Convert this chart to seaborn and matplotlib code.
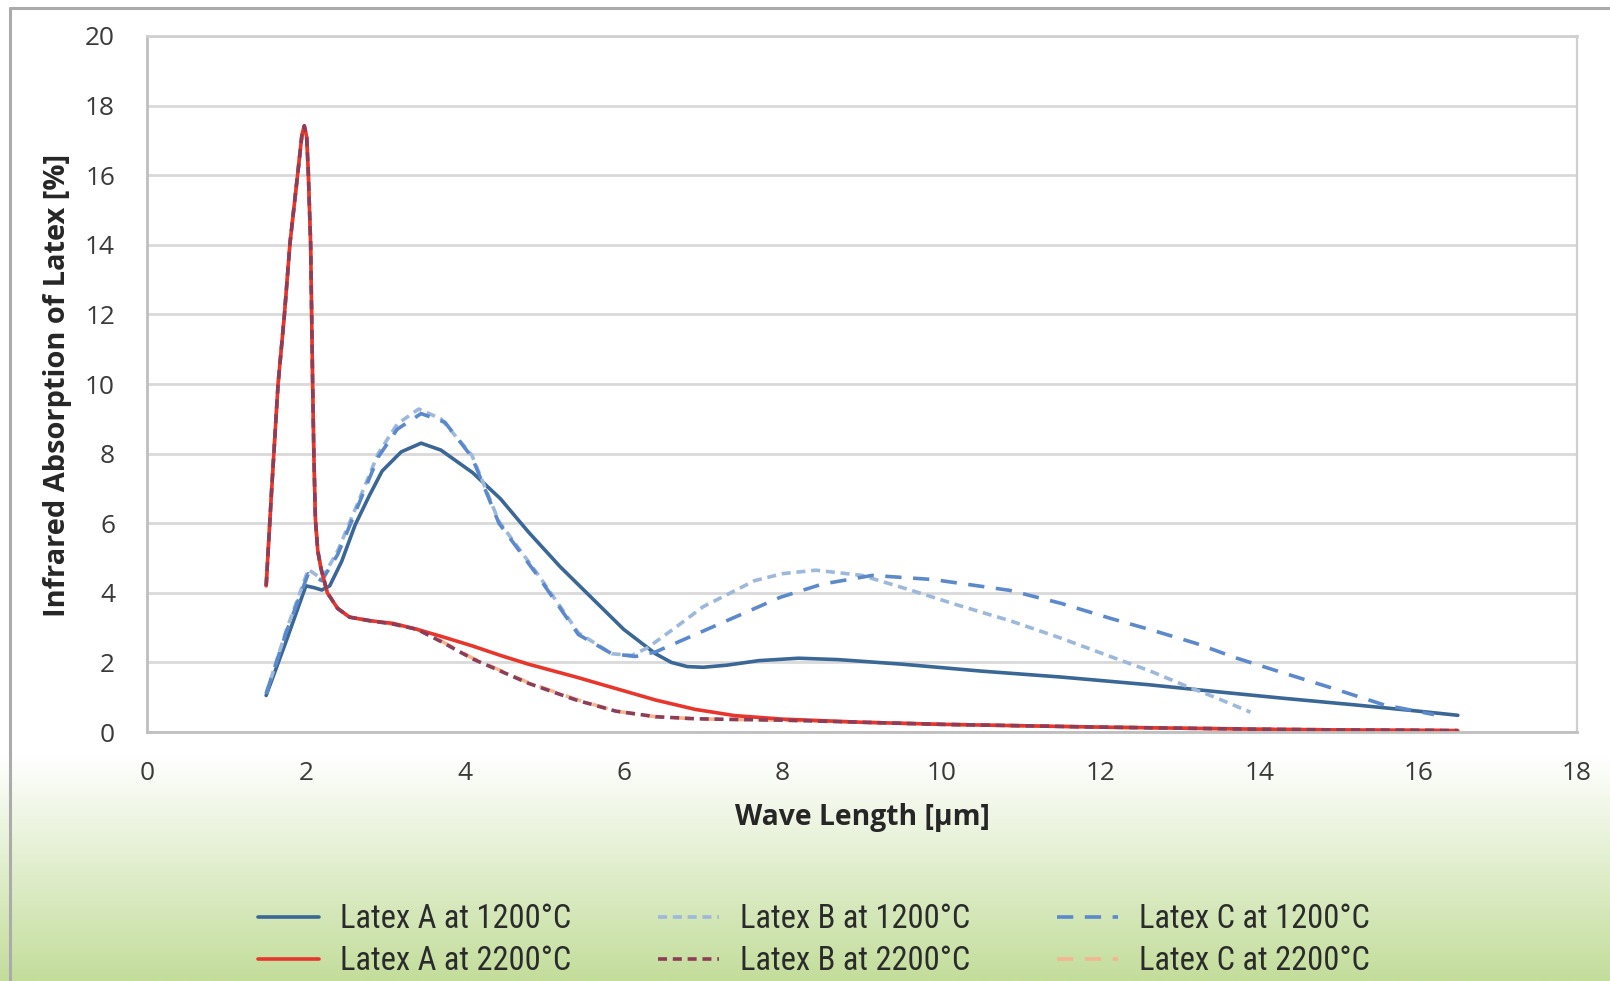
import numpy as np
import matplotlib
matplotlib.use("Agg")
import matplotlib.pyplot as plt
import seaborn as sns
from matplotlib import font_manager as fm
from matplotlib.colors import to_rgb
from matplotlib.lines import Line2D

# ---------------- data ----------------
x_ticks = [0, 2, 4, 6, 8, 10, 12, 14, 16, 18]
y_ticks = [0, 2, 4, 6, 8, 10, 12, 14, 16, 18, 20]

labels = ["Latex A at 1200°C", "Latex A at 2200°C",
          "Latex B at 1200°C", "Latex B at 2200°C",
          "Latex C at 1200°C", "Latex C at 2200°C"]

a1200_x = [1.5, 1.75, 2.0, 2.1, 2.2, 2.3, 2.45, 2.62, 2.8, 2.96, 3.2, 3.45, 3.7, 4.1, 4.45,
           4.8, 5.2, 5.6, 6.0, 6.4, 6.6, 6.8, 7.0, 7.3, 7.7, 8.2, 8.7, 9.5, 10.5, 11.5, 12.6,
           13.5, 14.3, 15.2, 16.0, 16.5]
a1200_y = [1.05, 2.6, 4.2, 4.15, 4.08, 4.2, 4.9, 5.95, 6.8, 7.5, 8.05, 8.3, 8.1, 7.45, 6.7,
           5.75, 4.75, 3.85, 2.95, 2.25, 2.0, 1.88, 1.86, 1.92, 2.05, 2.12, 2.08, 1.95, 1.75, 1.58, 1.36,
           1.15, 0.97, 0.78, 0.6, 0.48]

a2200_x = [1.5, 1.57, 1.65, 1.73, 1.8, 1.9, 1.95, 1.98, 2.01, 2.03, 2.06, 2.085, 2.1, 2.12,
           2.15, 2.19, 2.27, 2.4, 2.55, 2.8, 3.1, 3.4, 3.7, 4.1, 4.45, 4.8, 5.4, 5.9, 6.4, 6.9,
           7.4, 8.0, 9.0, 10.0, 11.0, 12.0, 13.0, 14.0, 15.0, 16.0, 16.5]
a2200_y = [4.2, 7.0, 10.0, 12.0, 14.05, 16.1, 17.15, 17.42, 17.1, 16.1, 14.0, 10.0, 8.0, 6.1,
           5.2, 4.7, 4.0, 3.55, 3.3, 3.2, 3.12, 2.95, 2.75, 2.47, 2.2, 1.95, 1.58, 1.25, 0.92, 0.65,
           0.47, 0.37, 0.28, 0.22, 0.18, 0.14, 0.11, 0.08, 0.06, 0.05, 0.04]

b1200_x = [1.5, 1.75, 2.03, 2.2, 2.4, 2.62, 2.91, 3.15, 3.42, 3.7, 4.09, 4.43, 4.93, 5.43,
           5.85, 6.1, 6.3, 6.65, 7.0, 7.65, 8.0, 8.42, 9.0, 9.58, 10.2, 10.86, 11.5, 12.15,
           12.63, 13.1, 13.44, 13.89]
b1200_y = [1.1, 2.9, 4.67, 4.4, 5.2, 6.4, 8.0, 8.85, 9.28, 9.0, 7.95, 6.05, 4.5, 2.85,
           2.25, 2.2, 2.42, 3.0, 3.6, 4.35, 4.55, 4.65, 4.5, 4.1, 3.65, 3.2, 2.7, 2.15,
           1.75, 1.3, 1.0, 0.57]

b2200_x = [1.5, 1.57, 1.65, 1.73, 1.8, 1.9, 1.95, 1.98, 2.01, 2.03, 2.06, 2.085, 2.1, 2.12,
           2.15, 2.19, 2.27, 2.4, 2.55, 2.8, 3.1, 3.4, 3.7, 4.1, 4.45, 4.8, 5.4, 5.9, 6.4, 6.9,
           7.4, 8.0, 9.0, 10.0, 11.0, 12.0, 13.0, 14.0, 15.0, 16.0, 16.5]
b2200_y = [4.2, 7.0, 10.0, 12.0, 14.05, 16.1, 17.15, 17.42, 17.1, 16.1, 14.0, 10.0, 8.0, 6.1,
           5.2, 4.7, 4.0, 3.55, 3.3, 3.2, 3.1, 2.95, 2.6, 2.1, 1.75, 1.4, 0.92, 0.6, 0.44, 0.38,
           0.36, 0.34, 0.28, 0.22, 0.18, 0.14, 0.11, 0.08, 0.06, 0.05, 0.04]

c1200_x = [1.5, 1.75, 2.03, 2.2, 2.4, 2.62, 2.91, 3.15, 3.45, 3.75, 4.09, 4.43, 4.93, 5.43,
           5.85, 6.15, 6.4, 7.0, 7.5, 7.97, 8.5, 9.13, 9.9, 10.86, 11.5, 12.15, 12.63, 13.2,
           13.72, 14.3, 14.85, 15.57, 16.0, 16.2]
c1200_y = [1.1, 2.85, 4.55, 4.35, 5.1, 6.3, 7.9, 8.7, 9.15, 8.9, 7.9, 6.0, 4.45, 2.8,
           2.25, 2.17, 2.3, 2.9, 3.4, 3.87, 4.25, 4.5, 4.38, 4.07, 3.7, 3.25, 2.94, 2.55,
           2.12, 1.7, 1.31, 0.78, 0.59, 0.5]

c2200_x = [1.5, 1.57, 1.65, 1.73, 1.8, 1.9, 1.95, 1.98, 2.01, 2.03, 2.06, 2.085, 2.1, 2.12,
           2.15, 2.19, 2.27, 2.4, 2.55, 2.8, 3.1, 3.4, 3.7, 4.1, 4.45, 4.8, 5.4, 5.9, 6.4, 6.9,
           7.4, 8.0, 9.0, 10.0, 11.0, 12.0, 13.0, 14.0, 15.0, 16.0, 16.5]
c2200_y = [4.2, 7.0, 10.0, 12.0, 14.05, 16.1, 17.15, 17.42, 17.1, 16.1, 14.0, 10.0, 8.0, 6.1,
           5.2, 4.7, 4.0, 3.55, 3.3, 3.2, 3.1, 2.95, 2.62, 2.12, 1.77, 1.42, 0.94, 0.6, 0.44, 0.38,
           0.36, 0.34, 0.28, 0.22, 0.18, 0.14, 0.11, 0.08, 0.06, 0.05, 0.04]

# ---------------- styling ----------------
sns.set_theme(style="white")
avail = {f.name for f in fm.fontManager.ttflist}


def pick(*names):
    for n in names:
        if n in avail:
            return n
    return "DejaVu Sans"


main_font = pick("Open Sans", "Noto Sans", "DejaVu Sans")
leg_font = pick("Roboto Condensed", "Liberation Sans Narrow", "Open Sans Condensed", "Open Sans")
plt.rcParams["font.family"] = [main_font, "DejaVu Sans"]

W, H = 1610, 981
fig = plt.figure(figsize=(W / 100, H / 100), dpi=100)
fig.patch.set_facecolor("white")

# gradient background (white -> light green at the bottom)
bg = fig.add_axes([0, 0, 1, 1], zorder=-10)
grad = np.ones((H, 1, 3))
green = np.array(to_rgb("#C3DD9B"))
g0 = 755
for i in range(g0, H):
    t = (i - g0) / (H - 1 - g0)
    grad[i, 0, :] = (1 - t) * np.ones(3) + t * green
bg.imshow(grad, aspect="auto", extent=[0, 1, 0, 1], interpolation="bilinear")
bg.set_axis_off()

# outer frame (left and top)
fig.add_artist(Line2D([10 / W, 10 / W], [0, 1 - 8 / H], transform=fig.transFigure,
                      color="#ABABAB", lw=2.2))
fig.add_artist(Line2D([10 / W, 1], [1 - 8 / H, 1 - 8 / H], transform=fig.transFigure,
                      color="#ABABAB", lw=2.2))

L, R, T, B = 147, 1577, 36, 732
ax = fig.add_axes([L / W, 1 - B / H, (R - L) / W, (B - T) / H])
ax.set_facecolor("white")

lw = 2.6
series = [
    (labels[0], a1200_x, a1200_y, "#3A6796", "-"),
    (labels[2], b1200_x, b1200_y, "#9DB8DA", (0, (2.5, 1.6))),
    (labels[4], c1200_x, c1200_y, "#5B89CB", (0, (4.5, 3.2))),
    (labels[5], c2200_x, c2200_y, "#F5B590", (0, (4.5, 3.2))),
    (labels[1], a2200_x, a2200_y, "#E8362C", "-"),
    (labels[3], b2200_x, b2200_y, "#8E3D58", (0, (2.5, 1.6))),
]
for lab, xs, ys, col, ls in series:
    sns.lineplot(x=xs, y=ys, ax=ax, color=col, linewidth=lw, linestyle=ls,
                 label=lab, sort=False, errorbar=None, legend=False)
for ln in ax.get_lines():
    ln.set_solid_joinstyle("round")
    ln.set_dash_joinstyle("round")

ax.set_xlim(0, 18)
ax.set_ylim(0, 20)
ax.set_xticks(x_ticks)
ax.set_yticks(y_ticks)
ax.set_xticklabels([str(v) for v in x_ticks])
ax.set_yticklabels([str(v) for v in y_ticks])
ax.grid(axis="y", color="#D9D9D9", lw=2.0)
ax.grid(axis="x", visible=False)
ax.set_axisbelow(True)
for s in ["left", "bottom"]:
    ax.spines[s].set_color("#BFBFBF")
    ax.spines[s].set_linewidth(2.0)
ax.spines["right"].set_color("#CFCFCF")
ax.spines["right"].set_linewidth(1.6)
ax.spines["top"].set_color("#D0D0D0")
ax.spines["top"].set_linewidth(2.0)

# fit font sizes to measured pixel widths
fig.canvas.draw()
rend = fig.canvas.get_renderer()


def fit(text, target_px, family, weight="normal", base=20):
    t = fig.text(0, 0, text, fontsize=base, family=family, fontweight=weight)
    w = t.get_window_extent(rend).width
    t.remove()
    return base * target_px / w


tick_fs = fit("20", 30, main_font)
ax.tick_params(axis="both", direction="out", length=9, width=2.0, color="#BFBFBF",
               labelsize=tick_fs, labelcolor="#3A3A3A")
ax.tick_params(axis="y", pad=14)
ax.tick_params(axis="x", pad=12)

xl_fs = fit("Wave Length [µm]", 254, main_font, "bold")
yl_fs = fit("Infrared Absorption of Latex [%]", 464, main_font, "bold")
ax.set_xlabel("Wave Length [µm]", fontsize=xl_fs, fontweight="bold", color="#262626")
ax.set_ylabel("Infrared Absorption of Latex [%]", fontsize=yl_fs, fontweight="bold",
              color="#262626")
ax.xaxis.set_label_coords(0.5, (B - 818) / (B - T))
ax.xaxis.label.set_va("center")
ax.yaxis.set_label_coords((58 - L) / (R - L), (B - 385) / (B - T))
ax.yaxis.label.set_va("center")

leg_fs = fit("Latex A at 1200°C", 231, leg_font)
px = leg_fs * 100 / 72
h, l = ax.get_legend_handles_labels()
order = [l.index(s) for s in labels]
fig.legend([h[i] for i in order], [l[i] for i in order], loc="center",
           bbox_to_anchor=(814 / W, 1 - 940 / H), ncol=3, frameon=False,
           prop={"family": leg_font, "size": leg_fs},
           handlelength=61 / px, handletextpad=21 / px, columnspacing=87 / px,
           labelspacing=(48 - 1.17 * px) / px, labelcolor="#2B2B2B")

fig.savefig("out.png", dpi=100, facecolor=fig.get_facecolor())
